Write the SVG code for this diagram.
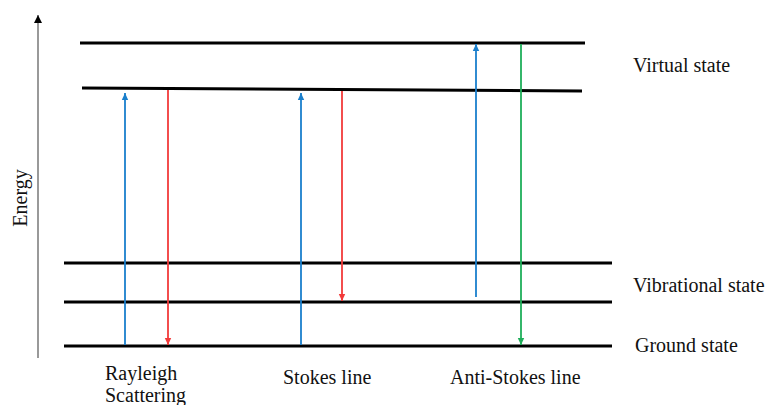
<svg xmlns="http://www.w3.org/2000/svg" width="769" height="405" viewBox="0 0 769 405">
<style>
.lvl{stroke:#000;stroke-width:3;fill:none}
.t{font-family:'Liberation Serif','DejaVu Serif',serif;font-size:20px;fill:#111}
.blue{stroke:#1a7fcc;stroke-width:1.8;fill:none}
.red{stroke:#f23a3a;stroke-width:1.8;fill:none}
.green{stroke:#1fae5a;stroke-width:1.8;fill:none}
</style>
<defs>
<marker id="ab" markerWidth="8" markerHeight="8" refX="7" refY="4" orient="auto" markerUnits="userSpaceOnUse"><path d="M0,0.8 L7,4 L0,7.2 Z" fill="#1a7fcc"/></marker>
<marker id="ar" markerWidth="8" markerHeight="8" refX="7" refY="4" orient="auto" markerUnits="userSpaceOnUse"><path d="M0,0.8 L7,4 L0,7.2 Z" fill="#f23a3a"/></marker>
<marker id="ag" markerWidth="8" markerHeight="8" refX="7" refY="4" orient="auto" markerUnits="userSpaceOnUse"><path d="M0,0.8 L7,4 L0,7.2 Z" fill="#1fae5a"/></marker>
<marker id="ak" markerWidth="10" markerHeight="10" refX="8" refY="4" orient="auto" markerUnits="userSpaceOnUse"><path d="M0,0 L8,4 L0,8 Z" fill="#000"/></marker>
</defs>
<rect width="769" height="405" fill="#fff"/>
<g id="axis">
<line x1="38" y1="358" x2="38" y2="15" stroke="#999" stroke-width="2" marker-end="url(#ak)"/>
<text class="t" font-family="Liberation Serif, serif" transform="translate(27,198) rotate(-90)" text-anchor="middle">Energy</text>
</g>
<g id="virtual-state">
<line class="lvl" x1="80" y1="43" x2="585" y2="43"/>
<line class="lvl" x1="82" y1="88" x2="582" y2="91"/>
<text class="t" font-family="Liberation Serif, serif" x="633" y="72">Virtual state</text>
</g>
<g id="vibrational-state">
<line class="lvl" x1="64" y1="263" x2="612" y2="263"/>
<line class="lvl" x1="64" y1="302" x2="612" y2="302"/>
<text class="t" font-family="Liberation Serif, serif" x="633" y="292">Vibrational state</text>
</g>
<g id="ground-state">
<line class="lvl" x1="64" y1="346" x2="612" y2="346"/>
<text class="t" font-family="Liberation Serif, serif" x="635" y="352">Ground state</text>
</g>
<g id="rayleigh">
<text class="t" font-family="Liberation Serif, serif" x="105" y="380">Rayleigh</text>
<text class="t" font-family="Liberation Serif, serif" x="105" y="402">Scattering</text>
</g>
<g id="stokes">
<text class="t" font-family="Liberation Serif, serif" x="283" y="384">Stokes line</text>
</g>
<g id="anti-stokes">
<text class="t" font-family="Liberation Serif, serif" x="450" y="384">Anti-Stokes line</text>
</g>
<g id="connectors">
<line class="blue" x1="125" y1="345" x2="125" y2="93" marker-end="url(#ab)"/>
<line class="red" x1="168" y1="90" x2="168" y2="345" marker-end="url(#ar)"/>
<line class="blue" x1="301" y1="345" x2="301" y2="93" marker-end="url(#ab)"/>
<line class="red" x1="342" y1="91" x2="342" y2="301" marker-end="url(#ar)"/>
<line class="blue" x1="476" y1="297" x2="476" y2="44" marker-end="url(#ab)"/>
<line class="green" x1="521" y1="44" x2="521" y2="345" marker-end="url(#ag)"/>
</g>
</svg>
